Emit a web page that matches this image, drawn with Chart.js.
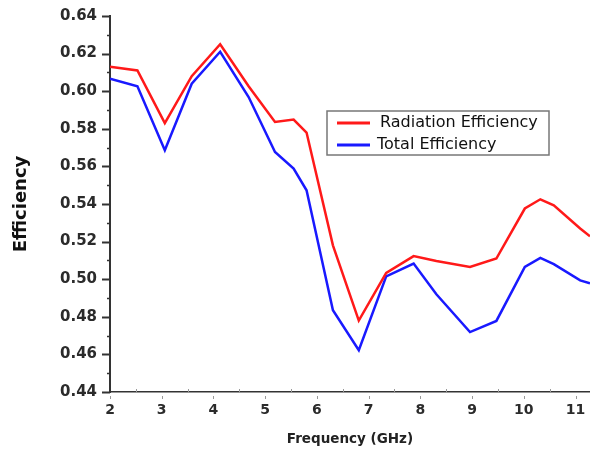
<!DOCTYPE html>
<html>
<head>
<meta charset="utf-8">
<script src="https://cdn.jsdelivr.net/npm/chart.js@4/dist/chart.umd.min.js"></script>
<style>
  html, body { margin: 0; padding: 0; background: #fff; }
  #wrap { width: 590px; height: 454px; }
</style>
</head>
<body>
<div id="wrap"><canvas id="chart" width="590" height="454"></canvas></div>
<script>
// Frequency points (GHz) shared by both curves
const freqGHz = [2, 2.53, 3.06, 3.58, 4.13, 4.68, 5.19, 5.55, 5.80, 6.31, 6.81, 7.34, 7.87, 8.31, 8.96, 9.47, 10.02, 10.32, 10.58, 11.09, 11.28];
const radiationEff = [0.613, 0.611, 0.583, 0.608, 0.625, 0.6026, 0.5836, 0.5849, 0.578, 0.518, 0.478, 0.5033, 0.5123, 0.5097, 0.5065, 0.511, 0.5376, 0.5425, 0.5393, 0.527, 0.5228];
const totalEff = [0.6067, 0.6026, 0.5686, 0.604, 0.621, 0.5969, 0.5677, 0.5588, 0.5473, 0.4835, 0.4622, 0.5015, 0.5083, 0.492, 0.4719, 0.4778, 0.5065, 0.5113, 0.508, 0.4994, 0.4978];
const seriesLabels = ['Radiation Efficiency', 'Total Efficiency'];

const axisFont = '"DejaVu Sans", sans-serif';

// draws the small/large tick marks like Origin does
const tickMarks = {
    id: 'tickMarks',
    afterDraw(chart) {
        const ctx = chart.ctx;
        const x = chart.scales.x;
        const y = chart.scales.y;
        const area = chart.chartArea;
        ctx.save();
        ctx.strokeStyle = '#333';
        for (let i = 0; i <= 20; i++) {
            const v = 0.44 + i * 0.01;
            const py = Math.round(y.getPixelForValue(v)) + 0.5;
            const major = i % 2 === 0;
            ctx.lineWidth = major ? 2 : 1.5;
            ctx.beginPath();
            ctx.moveTo(area.left - (major ? 8 : 3), py);
            ctx.lineTo(area.left, py);
            ctx.stroke();
        }
        ctx.strokeStyle = '#999';
        ctx.lineWidth = 1;
        for (let g = 2; g <= 11.5; g += 0.5) {
            const px = Math.round(x.getPixelForValue(g)) + 0.5;
            if (px > area.right) break;
            ctx.beginPath();
            if (g % 1 === 0) {
                ctx.moveTo(px, area.bottom + 4);
                ctx.lineTo(px, area.bottom + 7);
            } else {
                ctx.moveTo(px, area.bottom - 3);
                ctx.lineTo(px, area.bottom);
            }
            ctx.stroke();
        }
        ctx.restore();
    }
};

// legend box inside the plot
const boxLegend = {
    id: 'boxLegend',
    afterDraw(chart) {
        const ctx = chart.ctx;
        ctx.save();
        ctx.strokeStyle = '#777';
        ctx.lineWidth = 1.5;
        ctx.strokeRect(327, 111, 222, 44);
        const rows = [{y: 123, tx: 380}, {y: 145, tx: 377}];
        ctx.font = '16px "DejaVu Sans", sans-serif';
        ctx.textBaseline = 'middle';
        chart.data.datasets.forEach((ds, i) => {
            ctx.strokeStyle = ds.borderColor;
            ctx.lineWidth = 3;
            ctx.beginPath();
            ctx.moveTo(337, rows[i].y);
            ctx.lineTo(370, rows[i].y);
            ctx.stroke();
            ctx.fillStyle = '#111';
            ctx.fillText(ds.label, rows[i].tx, rows[i].y);
        });
        ctx.restore();
    }
};

new Chart(document.getElementById('chart'), {
    type: 'line',
    data: {
        datasets: [{
            label: seriesLabels[0],
            data: freqGHz.map((f, i) => ({x: f, y: radiationEff[i]})),
            borderColor: 'rgb(255, 25, 25)',
            borderWidth: 2.5,
            pointRadius: 0,
            tension: 0
        }, {
            label: seriesLabels[1],
            data: freqGHz.map((f, i) => ({x: f, y: totalEff[i]})),
            borderColor: 'rgb(25, 25, 255)',
            borderWidth: 2.5,
            pointRadius: 0,
            tension: 0
        }]
    },
    options: {
        responsive: false,
        animation: false,
        layout: { padding: { top: 16, right: 0, left: 0, bottom: 0 } },
        plugins: {
            legend: { display: false },
            tooltip: { enabled: false }
        },
        scales: {
            x: {
                type: 'linear',
                min: 2,
                max: 11.28,
                afterFit: s => { s.height = 62; s.paddingLeft = 0; s.paddingRight = 0; },
                grid: { display: false, drawTicks: false },
                border: { display: true, color: '#333', width: 1.5 },
                ticks: {
                    stepSize: 1,
                    includeBounds: false,
                    padding: 10,
                    color: '#2b2b2b',
                    font: { family: axisFont, size: 14, weight: 'bold' }
                },
                title: {
                    display: true,
                    text: 'Frequency (GHz)',
                    color: '#222',
                    padding: { top: 0, bottom: 6 },
                    font: { family: axisFont, size: 13.5, weight: 'bold' }
                }
            },
            y: {
                min: 0.44,
                max: 0.64,
                afterFit: s => { s.width = 110; s.paddingTop = 0; s.paddingBottom = 0; },
                grid: { display: false, drawTicks: false },
                border: { display: true, color: '#333', width: 2 },
                ticks: {
                    stepSize: 0.02,
                    padding: 13,
                    color: '#2b2b2b',
                    font: { family: axisFont, size: 15, weight: 'bold' },
                    callback: v => v.toFixed(2)
                },
                title: {
                    display: true,
                    text: 'Efficiency',
                    color: '#111',
                    padding: { top: 11, bottom: 0 },
                    font: { family: axisFont, size: 18, weight: 'bold' }
                }
            }
        }
    },
    plugins: [tickMarks, boxLegend]
});
</script>
</body>
</html>
